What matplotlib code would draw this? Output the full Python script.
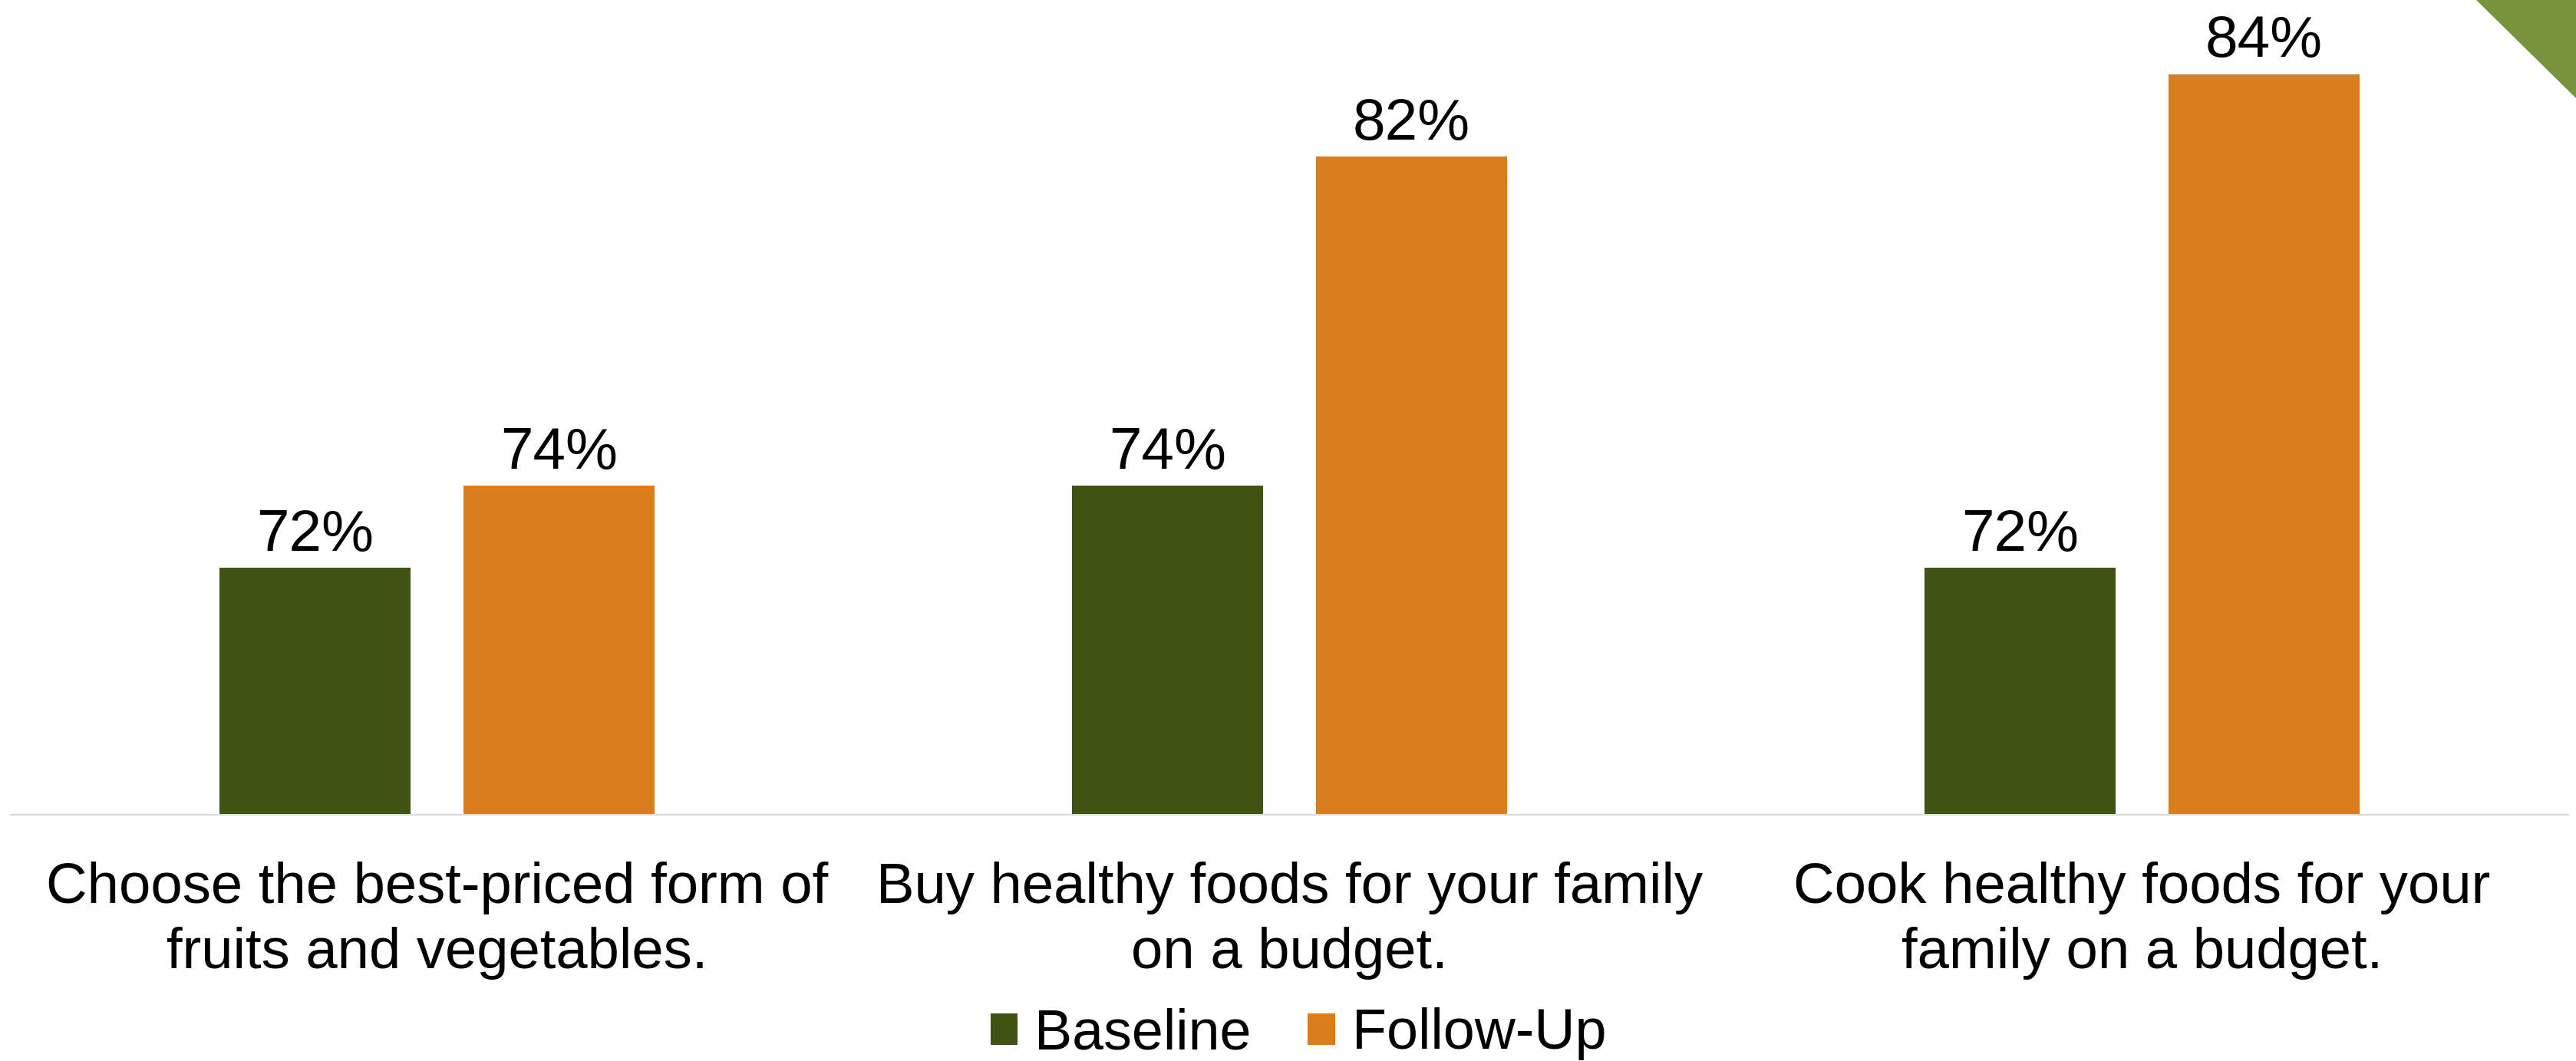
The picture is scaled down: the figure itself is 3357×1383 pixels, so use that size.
import matplotlib.pyplot as plt
from matplotlib.patches import Polygon
import numpy as np

plt.rcParams['font.family'] = ['Liberation Sans', 'DejaVu Sans']

# Survey items and percent agreeing, before and after the program
categories = [
    "Choose the best-priced form of\nfruits and vegetables.",
    "Buy healthy foods for your family\non a budget.",
    "Cook healthy foods for your\nfamily on a budget.",
]
baseline = [72, 74, 72]
follow_up = [74, 82, 84]
series_names = ["Baseline", "Follow-Up"]

green = "#3F5412"
orange = "#DA7D1D"

W, H = 3357, 1383
fig = plt.figure(figsize=(W / 100, H / 100), dpi=100)
ax = fig.add_axes([14 / W, 1 - 1062 / H, 3333 / W, 1062 / H])

x = np.arange(len(categories))
width = 0.224
offset = 0.143
b1 = ax.bar(x - offset, baseline, width, bottom=0, color=green, label=series_names[0])
b2 = ax.bar(x + offset, follow_up, width, bottom=0, color=orange, label=series_names[1])

for bars, vals in [(b1, baseline), (b2, follow_up)]:
    for rect, v in zip(bars, vals):
        ax.annotate(f"{v}%", (rect.get_x() + rect.get_width() / 2, v),
                    xytext=(0, 16), textcoords="offset points",
                    ha="center", va="baseline", fontsize=55)

ax.set_xlim(-0.5, 2.5)
ax.set_ylim(66, 85.8)
ax.set_yticks([])
ax.set_xticks(x, categories, fontsize=53.5, linespacing=1.3)
ax.tick_params(axis="x", length=0, pad=44)
for s in ["top", "left", "right"]:
    ax.spines[s].set_visible(False)
ax.spines["bottom"].set_color("#D9D9D9")
ax.spines["bottom"].set_linewidth(1.5)

fig.legend(handles=[b1, b2], loc="center", bbox_to_anchor=(0.504, 1 - 1348 / H),
           ncol=2, frameon=False, fontsize=53, handlelength=0.48, handleheight=0.48,
           handletextpad=0.3, columnspacing=1.0, borderpad=0)

# corner accent
fig.patches.append(Polygon([[3227 / W, 1], [1, 1], [1, 1 - 128 / H]], closed=True,
                           transform=fig.transFigure, facecolor="#77933C", edgecolor="none"))

fig.savefig("out.png", dpi=100, facecolor="white")
